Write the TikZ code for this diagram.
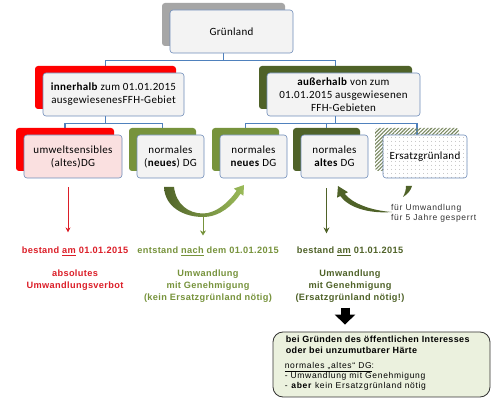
\documentclass[tikz,border=0pt]{standalone}
\usepackage{fontspec}
\newfontfamily\boxfont[LetterSpace=3]{Carlito}
\newfontfamily\arialfont[LetterSpace=4]{Liberation Sans}
\newfontfamily\notefont[LetterSpace=8]{Liberation Sans}
\usetikzlibrary{arrows.meta, positioning, calc, shadows, patterns.meta, backgrounds}
\definecolor{linecol}{RGB}{79,129,189}
\definecolor{boxline}{RGB}{110,140,185}
\definecolor{boxfill}{RGB}{243,243,243}
\definecolor{pinkfill}{RGB}{250,224,224}
\definecolor{greyback}{RGB}{166,166,166}
\definecolor{redback}{RGB}{255,0,0}
\definecolor{olive}{RGB}{119,147,60}
\definecolor{darkolive}{RGB}{79,98,40}
\definecolor{lightolive}{RGB}{155,187,89}
\definecolor{redtxt}{RGB}{220,30,40}
\definecolor{hatchcol}{RGB}{120,135,95}
\definecolor{notefill}{RGB}{235,241,222}

\tikzset{
  frontbox/.style={draw=boxline, line width=0.6pt, fill=boxfill, rounded corners=3pt,
    minimum height=43pt, inner sep=1pt, align=center, font=\boxfont\fontsize{11}{13}\selectfont},
  backbox/.style={copy shadow={shadow xshift=-8pt, shadow yshift=7pt, draw=none, fill=#1}},
  conn/.style={draw=linecol, line width=1.3pt},
  lowtxt/.style={font=\arialfont\bfseries\fontsize{9.2}{12}\selectfont, align=center, inner sep=0pt},
  notetxt/.style={align=left, anchor=north west, inner sep=0pt},
}

\begin{document}
\begin{tikzpicture}[x=1pt, y=-1pt]
  \useasboundingbox (0,0) rectangle (491,409);

  % tree boxes
  \node[frontbox, backbox=greyback, minimum width=123pt] (gruen) at (231.5,31.5) {Grünland};
  \node[frontbox, backbox=redback, minimum width=141pt] (inner) at (113.5,94.5)
    {\textbf{innerhalb} zum 01.01.2015\\ausgewiesenesFFH-Gebiet};
  \node[frontbox, backbox=darkolive, minimum width=153pt] (ausser) at (343.5,94.5)
    {\textbf{außerhalb} von zum\\01.01.2015 ausgewiesenen\\FFH-Gebieten};
  \node[frontbox, backbox=redback, fill=pinkfill, minimum width=98pt] (b1) at (73,156.5)
    {umweltsensibles\\(altes)DG};
  \node[frontbox, backbox=olive, minimum width=67pt] (b2) at (170.5,156.5) {normales\\(\textbf{neues}) DG};
  \node[frontbox, backbox=olive, minimum width=67pt] (b3) at (253.5,156.5) {normales\\\textbf{neues} DG};
  \node[frontbox, backbox=darkolive, minimum width=67pt] (b4) at (334.5,156.5) {normales\\\textbf{altes} DG};
  \node[frontbox, copy shadow={shadow xshift=-8pt, shadow yshift=7pt, draw=none,
      pattern={Lines[angle=45,distance=2.6pt,line width=1.1pt]}, pattern color=hatchcol},
    fill=white, postaction={pattern={Dots[distance=4pt,radius=0.45pt]}, pattern color=gray},
    minimum width=84pt] (b5) at (425,156.5) {Ersatzgrünland};

  \begin{scope}[on background layer]
    \fill[white] (0,0) rectangle (491,409);
    \draw[conn] ([xshift=-8pt]gruen.south) -- ++(0,7) -| ([xshift=-8pt]inner.north);
    \draw[conn] ([xshift=-8pt]gruen.south) -- ++(0,7) -| ([xshift=-8pt]ausser.north);
    \foreach \b in {b1,b2}
      \draw[conn] ([xshift=-8pt]inner.south) -- ++(0,7) -| ([xshift=-8pt]\b.north);
    \foreach \b in {b3,b4,b5}
      \draw[conn] ([xshift=-8pt]ausser.south) -- ++(0,7) -| ([xshift=-8pt]\b.north);
  \end{scope}

  % texts below
  \node[lowtxt, text=redtxt] (t1) at (75,251) {bestand \underline{am} 01.01.2015};
  \node[lowtxt, text=redtxt] (v1) at (75,280) {absolutes\\Umwandlungsverbot};
  \node[lowtxt, text=olive] (t2) at (208,251) {entstand \underline{nach} dem 01.01.2015};
  \node[lowtxt, text=olive] (v2) at (208,286) {Umwandlung\\mit Genehmigung\\(kein Ersatzgrünland nötig)};
  \node[lowtxt, text=darkolive] (t3) at (350,251) {bestand \underline{am} 01.01.2015};
  \node[lowtxt, text=darkolive] (v3) at (350,286) {Umwandlung\\mit Genehmigung\\(Ersatzgrünland nötig!)};
  \node[font=\notefont\fontsize{8.5}{10}\selectfont, align=left, anchor=north west, inner sep=0pt,
    text=black!80] (lock) at (391,204) {für Umwandlung\\für 5 Jahre gesperrt};

  % note box
  \node[draw=black!80, line width=0.8pt, fill=notefill, rounded corners=10pt, minimum width=217pt,
    minimum height=65pt] (note) at (381.5,364.5) {};
  \node[notetxt, font=\arialfont\bfseries\fontsize{9}{11}\selectfont] (notehead)
    at ($(note.north west)+(13,4)$) {bei Gründen des öffentlichen Interesses\\oder bei unzumutbarer Härte};
  \node[notetxt, font=\notefont\fontsize{8.5}{10}\selectfont] (notebody)
    at ($(note.north west)+(12,31)$)
    {\underline{normales „altes“ DG}:\\- Umwandlung mit Genehmigung\\- \textbf{aber} kein Ersatzgrünland nötig};

  % arrows
  \draw[redtxt, line width=1pt, -{Stealth[length=5pt,width=5pt]}, shorten <=9pt, shorten >=14pt]
    ($(b1.south)+(-5,0)$) -- ($(b1.south |- t1.north)+(-5,0)$);
  \shade[left color=darkolive, right color=lightolive]
    (164,187) .. controls (165,208) and (185,217) .. (203,217)
    .. controls (220,217) and (233,205) .. (240.6,193.7) -- (243.4,195.8) -- (244,185)
    -- (233.8,188.6) -- (236.6,190.7) .. controls (229,202) and (216,213.5) .. (203,213.5)
    .. controls (188,213.5) and (176,204) .. (174,187) -- cycle;
  \coordinate (ubot) at (203,216);
  \draw[olive, line width=0.9pt, -{Stealth[length=5pt,width=6pt]}, shorten >=11pt] (ubot) -- (ubot |- t2.north);
  \draw[darkolive, line width=1.3pt, -{Stealth[length=6pt,width=6pt]}, shorten <=10pt, shorten >=13pt]
    ($(b4.south)+(-8,0)$) -- ($(b4.south |- t3.north)+(-8,0)$);
  \fill[darkolive] (392,212) .. controls (368,214) and (348,207) .. (340.3,196) -- (337.1,197.6)
    -- (338,186) -- (347.9,192.2) -- (344.7,193.8) .. controls (352,203) and (370,210.5) .. (392,212) -- cycle;
  \fill[darkolive] (406,186) -- (412,186) .. controls (411,190) and (408,194) .. (403,197)
    .. controls (405,193) and (406,190) .. (406,186) -- cycle;
  \draw[black, line width=9pt, -{Triangle[length=10pt,width=20pt]}, shorten <=5pt, shorten >=7pt]
    ($(v3.south)+(-5,0)$) -- ($(v3.south |- note.north)+(-5,0)$);
\end{tikzpicture}
\end{document}
